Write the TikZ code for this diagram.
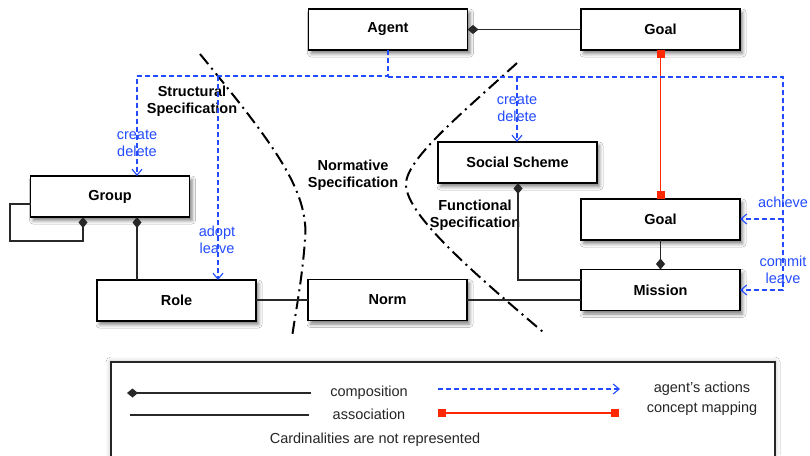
\documentclass[tikz,border=0pt]{standalone}
\usepackage{fontspec}
\setmainfont{Liberation Sans}
\usetikzlibrary{arrows.meta,shadows.blur}

\definecolor{actblue}{RGB}{35,75,255}
\definecolor{mapred}{RGB}{255,40,0}
\definecolor{linegray}{RGB}{40,40,40}

\tikzset{
  entity/.style={draw=black, line width=1.3pt, fill=white, inner sep=0pt, outer sep=0pt,
    minimum width=159pt, minimum height=41pt,
    font=\fontsize{14.5}{16}\selectfont\bfseries,
    blur shadow={shadow xshift=2.5pt, shadow yshift=-3.5pt, shadow blur radius=3.5pt, shadow opacity=50}},
  region/.style={align=center, font=\fontsize{14.5}{17}\selectfont\bfseries, inner sep=0pt},
  actlabel/.style={align=center, text=actblue, font=\fontsize{14.5}{17}\selectfont, inner sep=0pt},
  legtext/.style={text=black!85, font=\fontsize{14.5}{19}\selectfont, inner sep=0pt},
  assoc/.style={draw=linegray, line width=1.1pt},
  compos/.style={assoc, -{Diamond[length=11pt,width=9pt]}},
  action/.style={draw=actblue, line width=1.1pt, dash pattern=on 5pt off 3pt},
  actarrow/.style={action, -{Straight Barb[length=6pt,width=10pt]}},
  mapping/.style={draw=mapred, line width=1.3pt,
    {Square[length=8pt,width=8pt]}-{Square[length=8pt,width=8pt]}},
  border/.style={draw=black, line width=2pt, dash pattern=on 13pt off 5pt on 2pt off 5pt}
}

\begin{document}
\begin{tikzpicture}[x=1pt, y=-1pt]
  \useasboundingbox (0,0) rectangle (810,455);
  \fill[white] (0,0) rectangle (810,455);

  % legend frame
  \node[draw=black!85, line width=1.1pt, fill=white, inner sep=0pt, outer sep=0pt,
        minimum width=664pt, minimum height=110pt,
        blur shadow={shadow xshift=0pt, shadow yshift=0pt, shadow blur radius=5pt, shadow opacity=30}]
        (legend) at (443,417) {};

  % boundaries between the specifications
  \draw[border] (200,54) .. controls (270,140) and (310,190) .. (305,240)
                        .. controls (302,280) and (296,310) .. (292,337);
  \draw[border] (517,63) .. controls (460,115) and (405,160) .. (406,185)
                        .. controls (407,215) and (470,270) .. (543,332);

  % entities
  \node[entity] (agent)   at (388,29.5)  {Agent};
  \node[entity] (goalA)   at (660.5,29.5) {Goal};
  \node[entity] (group)   at (110,196.5) {Group};
  \node[entity] (role)    at (176.5,300.5) {Role};
  \node[entity] (norm)    at (387.5,300) {Norm};
  \node[entity] (scheme)  at (517.5,162.5) {Social Scheme};
  \node[entity] (goalB)   at (660.5,219.5) {Goal};
  \node[entity] (mission) at (660.5,290) {Mission};

  % specification names
  \node[region] (structural) at (192,101.5) {Structural\\Specification};
  \node[region] (normative)  at (353,175.5) {Normative\\Specification};
  \node[region] (functional) at (475,215.5) {Functional\\Specification};

  % compositions and associations
  \draw[compos] (goalA.west) -- (agent.east);
  \draw[compos] (group.west |- 0,204) -- (10,204) -- (10,241) -- (83,241) -- (group.south -| 83,0);
  \draw[compos] (role.north -| 137,0) -- (group.south -| 137,0);
  \draw[assoc] (role.east |- 0,300) -- (norm.west |- 0,300);
  \draw[assoc] (norm.east |- 0,300) -- (mission.west |- 0,300);
  \draw[compos] (mission.west |- 0,280) -- (518,280) -- (scheme.south -| 518,0);
  \draw[compos] (goalB.south) -- (mission.north);

  % concept mapping
  \draw[mapping] (goalA.south) -- (goalB.north);

  % agent's actions
  \coordinate (busL) at (137,76);
  \coordinate (busR) at (783,77);
  \coordinate (adoptJ) at (218,76);
  \coordinate (schemeJ) at (517,77);
  \coordinate (achieveJ) at (783,219);
  \draw[actarrow] (agent.south) -- (388,76) -- (busL) -- (group.north -| busL);
  \draw[actarrow] (adoptJ) -- (role.north -| adoptJ);
  \draw[actarrow] (388,77) -- (busR) -- (busR |- 0,290) -- (mission.east |- 0,290);
  \draw[actarrow] (schemeJ) -- (scheme.north -| schemeJ);
  \draw[actarrow] (achieveJ) -- (goalB.east |- achieveJ);

  \node[actlabel] (lblGroup)   at (137,143) {create\\delete};
  \node[actlabel] (lblRole)    at (217,240) {adopt\\leave};
  \node[actlabel] (lblScheme)  at (517,108.5) {create\\delete};
  \node[actlabel] (lblAchieve) at (783,202) {achieve};
  \node[actlabel] (lblCommit)  at (783,270) {commit\\leave};

  % legend content
  \coordinate (compA) at (127,393);
  \coordinate (compB) at (311,393);
  \coordinate (assoA) at (130,415);
  \coordinate (assoB) at (309,415);
  \coordinate (actA) at (438,389);
  \coordinate (actB) at (620,389);
  \coordinate (mapA) at (438,413);
  \coordinate (mapB) at (619,413);
  \draw[compos] (compB) -- (compA);
  \draw[assoc] (assoA) -- (assoB);
  \draw[actarrow] (actA) -- (actB);
  \draw[mapping] (mapA) -- (mapB);
  \node[legtext] (legComp)  at (369,393) {composition};
  \node[legtext] (legAssoc) at (369,414) {association};
  \node[legtext] (legAct)   at (702,389) {agent's actions};
  \node[legtext] (legMap)   at (702,409) {concept mapping};
  \node[legtext] (legNote)  at (375,440) {Cardinalities are not represented};
\end{tikzpicture}
\end{document}
